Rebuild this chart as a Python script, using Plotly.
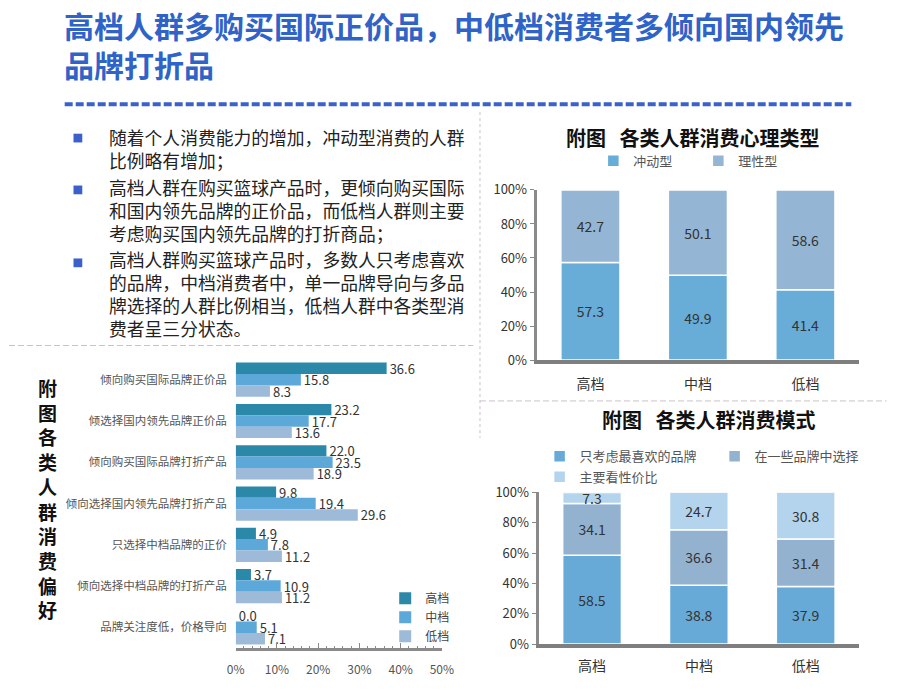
import plotly.graph_objects as go

W, H = 920, 690


def px(x):
    return x / W


def py(y):
    return 1 - y / H


# ---------------- data ----------------
title_lines = ["高档人群多购买国际正价品，中低档消费者多倾向国内领先", "品牌打折品"]
bullets = [
    ["随着个人消费能力的增加，冲动型消费的人群", "比例略有增加；"],
    ["高档人群在购买篮球产品时，更倾向购买国际", "和国内领先品牌的正价品，而低档人群则主要", "考虑购买国内领先品牌的打折商品；"],
    ["高档人群购买篮球产品时，多数人只考虑喜欢", "的品牌，中档消费者中，单一品牌导向与多品", "牌选择的人群比例相当，低档人群中各类型消", "费者呈三分状态。"],
]

groups = ["高档", "中档", "低档"]
impulse = [57.3, 49.9, 41.4]
rational = [42.7, 50.1, 58.6]

fav_only = [58.5, 38.8, 37.9]
among_brands = [34.1, 36.6, 31.4]
value_money = [7.3, 24.7, 30.8]

pref_labels = [
    "倾向购买国际品牌正价品",
    "倾选择国内领先品牌正价品",
    "倾向购买国际品牌打折产品",
    "倾向选择国内领先品牌打折产品",
    "只选择中档品牌的正价",
    "倾向选择中档品牌的打折产品",
    "品牌关注度低，价格导向",
]
pref_high = [36.6, 23.2, 22.0, 9.8, 4.9, 3.7, 0.0]
pref_mid = [15.8, 17.7, 23.5, 19.4, 7.8, 10.9, 5.1]
pref_low = [8.3, 13.6, 18.9, 29.6, 11.2, 11.2, 7.1]

pct_ticks = [0, 10, 20, 30, 40, 50]
pct_ticktext = [f"{v}%" for v in pct_ticks]

FONT = "Noto Sans CJK SC"
C_HIGH, C_MID, C_LOW = "#2B88A8", "#5CA8D8", "#9DBAD8"
C_IMP, C_RAT = "#68ACD8", "#94B6D4"
C_FAV, C_AMONG, C_VAL = "#68AAD7", "#93B2D0", "#B4D4EE"

fig = go.Figure()

# ---- preference chart (horizontal grouped bars) ----
for name, vals, col in [("高档", pref_high, C_HIGH), ("中档", pref_mid, C_MID), ("低档", pref_low, C_LOW)]:
    fig.add_trace(go.Bar(
        y=pref_labels, x=vals, name=name, orientation="h",
        marker=dict(color=col, line=dict(width=0)),
        texttemplate="%{x:.1f}", textposition="outside", cliponaxis=False,
        constraintext="none",
        textfont=dict(size=13, color="#333", family=FONT),
        xaxis="x", yaxis="y", legend="legend",
    ))

# ---- consumption psychology (stacked via base) ----
fig.add_trace(go.Bar(
    x=groups, y=impulse, name="冲动型", offsetgroup="c1", width=0.55,
    marker=dict(color=C_IMP, line=dict(color="white", width=1.5)),
    texttemplate="%{y:.1f}", textposition="inside", insidetextanchor="middle",
    textangle=0, constraintext="none", textfont=dict(size=14, color="#333", family=FONT),
    xaxis="x2", yaxis="y2", legend="legend2",
))
fig.add_trace(go.Bar(
    x=groups, y=rational, base=impulse, name="理性型", offsetgroup="c1", width=0.55,
    marker=dict(color=C_RAT, line=dict(color="white", width=1.5)),
    texttemplate="%{y:.1f}", textposition="inside", insidetextanchor="middle",
    textangle=0, constraintext="none", textfont=dict(size=14, color="#333", family=FONT),
    xaxis="x2", yaxis="y2", legend="legend2",
))

# ---- consumption mode (stacked via base) ----
base_val = [a + b for a, b in zip(fav_only, among_brands)]
for name, vals, base, col, lg in [
    ("只考虑最喜欢的品牌", fav_only, None, C_FAV, "legend3"),
    ("在一些品牌中选择", among_brands, fav_only, C_AMONG, "legend3"),
    ("主要看性价比", value_money, base_val, C_VAL, "legend4"),
]:
    fig.add_trace(go.Bar(
        x=groups, y=vals, base=base, name=name, offsetgroup="c2", width=0.55,
        marker=dict(color=col, line=dict(color="white", width=1.5)),
        texttemplate="%{y:.1f}", textposition="inside", insidetextanchor="middle",
        textangle=0, constraintext="none", textfont=dict(size=14, color="#333", family=FONT),
        xaxis="x3", yaxis="y3", legend=lg,
    ))

# ---------------- annotations ----------------
ann = []
ann.append(dict(text="<b>" + "<br>".join(title_lines) + "</b>", x=px(54), y=py(35),
                xref="paper", yref="paper", xanchor="left", yanchor="middle", align="left",
                showarrow=False, font=dict(size=30, color="#3063C8", family=FONT)))

para_center = [142.2, 206.0, 291.7]
first_line = [131.7, 185.0, 260.0]
shapes = []
for b, lines in enumerate(bullets):
    ann.append(dict(text="<br>".join(lines), x=px(100), y=py(para_center[b]), xref="paper", yref="paper",
                    xanchor="left", yanchor="middle", align="left", showarrow=False,
                    font=dict(size=17.8, color="#222", family=FONT)))
    yc = first_line[b]
    shapes.append(dict(type="rect", xref="paper", yref="paper", x0=px(66), x1=px(75),
                       y0=py(yc + 4.5), y1=py(yc - 4.5), fillcolor="#3B60CC", line=dict(width=0)))

ann.append(dict(text="<b>附图   各类人群消费心理类型</b>", x=px(700), y=py(131), xref="paper", yref="paper",
                xanchor="center", yanchor="middle", showarrow=False,
                font=dict(size=20, color="#111", family=FONT)))
ann.append(dict(text="<b>附图   各类人群消费模式</b>", x=px(716), y=py(421), xref="paper", yref="paper",
                xanchor="center", yanchor="middle", showarrow=False,
                font=dict(size=20, color="#111", family=FONT)))
ann.append(dict(text="<b>" + "<br>".join("附图各类人群消费偏好") + "</b>", x=px(39), y=py(502),
                xref="paper", yref="paper", xanchor="center", yanchor="middle", showarrow=False,
                font=dict(size=19, color="#111", family=FONT)))

# decorative lines
shapes.append(dict(type="line", xref="paper", yref="paper", x0=px(57), x1=px(862), y0=py(97), y1=py(97),
                   line=dict(color="#3A62C8", width=4, dash="8px,3px")))
shapes.append(dict(type="line", xref="paper", yref="paper", x0=px(482), x1=px(482), y0=py(105), y1=py(440),
                   line=dict(color="#C9BFCB", width=1, dash="3px,3px")))
shapes.append(dict(type="line", xref="paper", yref="paper", x0=px(0), x1=px(475), y0=py(345), y1=py(345),
                   line=dict(color="#C9C3C9", width=1, dash="6px,3px")))
shapes.append(dict(type="line", xref="paper", yref="paper", x0=px(482), x1=px(898), y0=py(402), y1=py(402),
                   line=dict(color="#C9C3C9", width=1, dash="6px,3px")))

axis_common = dict(showgrid=False, zeroline=False, fixedrange=True)

fig.update_layout(
    width=W, height=H, autosize=False,
    margin=dict(l=0, r=0, t=0, b=0),
    paper_bgcolor="white", plot_bgcolor="white",
    font=dict(family=FONT, color="#333"),
    barmode="group", bargap=0.17, bargroupgap=0,
    annotations=ann, shapes=shapes,
    xaxis=dict(domain=[px(232), px(443)], anchor="y", range=[0, 50], tickvals=pct_ticks,
               ticktext=pct_ticktext, showline=True, linecolor="#8A8A8A", linewidth=3,
               ticks="inside", ticklen=5, tickcolor="#8A8A8A", tickwidth=1, ticklabelstandoff=9,
               minor=dict(dtick=2, ticks="inside", ticklen=2, tickcolor="#8A8A8A"),
               tickfont=dict(size=12, color="#555"), **axis_common),
    yaxis=dict(domain=[py(656), py(359)], anchor="x", autorange="reversed",
               categoryorder="array", categoryarray=pref_labels, showline=False, ticks="",
               ticklabelstandoff=8, tickfont=dict(size=11.5, color="#555"), **axis_common),
    xaxis2=dict(domain=[px(540), px(870)], anchor="y2", range=[-0.5, 2.5], showline=True,
                linecolor="#7F7F7F", linewidth=4, ticks="", ticklabelstandoff=8,
                tickfont=dict(size=14, color="#333"), **axis_common),
    yaxis2=dict(domain=[py(360), py(185)], anchor="x2", range=[0, 100], dtick=20, ticksuffix="%",
                showline=True, linecolor="#8A8A8A", linewidth=3, ticks="outside", ticklen=4,
                tickcolor="#8A8A8A", tickfont=dict(size=13, color="#333"), **axis_common),
    xaxis3=dict(domain=[px(542), px(870)], anchor="y3", range=[-0.5, 2.5], showline=True,
                linecolor="#7F7F7F", linewidth=4, ticks="", ticklabelstandoff=6,
                tickfont=dict(size=14, color="#333"), **axis_common),
    yaxis3=dict(domain=[py(652), py(496)], anchor="x3", range=[0, 100], dtick=20, ticksuffix="%",
                showline=True, linecolor="#8A8A8A", linewidth=3, ticks="outside", ticklen=4,
                tickcolor="#8A8A8A", tickfont=dict(size=13, color="#333"), **axis_common),
    legend=dict(x=px(385), y=py(590), xanchor="left", yanchor="top", orientation="v",
                font=dict(size=12, color="#444"), bgcolor="rgba(0,0,0,0)", tracegroupgap=0),
    legend2=dict(x=px(598), y=py(155), xanchor="left", yanchor="middle", orientation="h",
                 font=dict(size=13, color="#555"), bgcolor="rgba(0,0,0,0)", entrywidth=60),
    legend3=dict(x=px(543), y=py(459), xanchor="left", yanchor="middle", orientation="h",
                 font=dict(size=13, color="#555"), bgcolor="rgba(0,0,0,0)", entrywidth=130),
    legend4=dict(x=px(543), y=py(480), xanchor="left", yanchor="middle", orientation="h",
                 font=dict(size=13, color="#555"), bgcolor="rgba(0,0,0,0)"),
)

fig.write_html("out.html", config={"displayModeBar": False},
               post_script="document.body.style.margin='0';")
